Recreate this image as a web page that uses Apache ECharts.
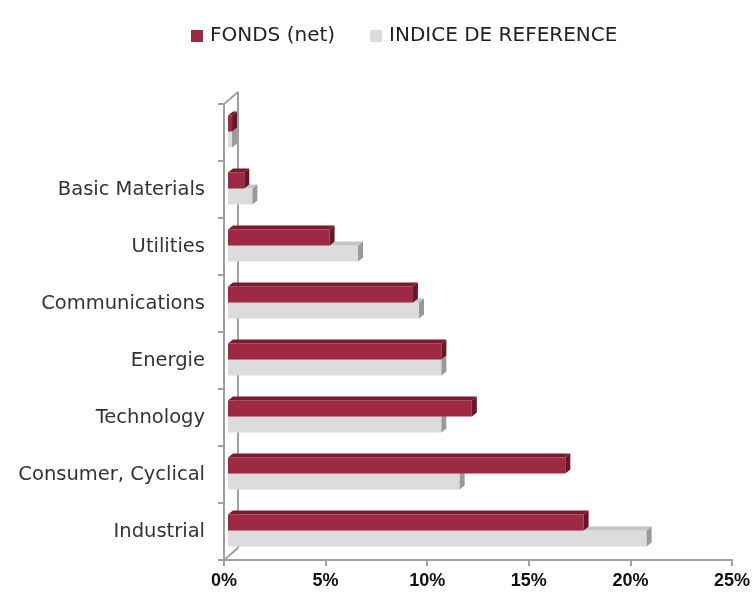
<!DOCTYPE html>
<html>
<head>
<meta charset="utf-8">
<script src="https://cdn.jsdelivr.net/npm/echarts@6/dist/echarts.min.js"></script>
<style>
  html, body { margin: 0; padding: 0; background: #fff; }
  #chart { width: 754px; height: 594px; }
</style>
</head>
<body>
<div id="chart"></div>
<script>
// categories from bottom to top
var categories = ["Industrial", "Consumer, Cyclical", "Technology", "Energie", "Communications", "Utilities", "Basic Materials", ""];
var fonds = [17.5, 16.6, 12.0, 10.5, 9.1, 5.0, 0.8, 0.2];
var indice = [20.6, 11.4, 10.5, 10.5, 9.4, 6.4, 1.2, 0.2];
var xTicks = [0, 5, 10, 15, 20, 25];

var GRID_LEFT = 224, GRID_TOP = 104, GRID_BOTTOM = 34, GRID_RIGHT = 22;
var WALL_DX = 14, WALL_DY = 12; // depth of the 3d wall
var BAR_DX = 4, BAR_DY = 1;     // bars sit half way in the depth
var BAR_H = 16, D = 5;          // bar height, bar depth

function makeRender(side, front, top, right) {
	return function (params, api) {
		var cat = api.value(1);
		var val = api.value(0);
		var p0 = api.coord([0, cat]);
		var p1 = api.coord([val, cat]);
		var x0 = p0[0] + BAR_DX;
		var x1 = p1[0] + BAR_DX;
		var yTop = side === 0 ? p0[1] - BAR_DY - BAR_H : p0[1] - BAR_DY;
		var yBot = yTop + BAR_H;
		return {
			type: "group",
			children: [
				{ type: "rect", shape: { x: x0, y: yTop, width: x1 - x0, height: BAR_H }, style: { fill: front } },
				{ type: "polygon", shape: { points: [[x0, yTop], [x0 + D, yTop - D + 1], [x1 + D, yTop - D + 1], [x1, yTop]] }, style: { fill: top } },
				{ type: "polygon", shape: { points: [[x1, yTop], [x1 + D, yTop - D + 1], [x1 + D, yBot - D + 1], [x1, yBot]] }, style: { fill: right } }
			]
		};
	};
}

var chart = echarts.init(document.getElementById("chart"));
var plotBottom = 594 - GRID_BOTTOM;
var wallStyle = { stroke: "#a0a0a0", lineWidth: 2 };

chart.setOption({
	animation: false,
	legend: {
		top: 21,
		left: 186,
		icon: "rect",
		itemWidth: 12,
		itemHeight: 12,
		itemGap: 35,
		textStyle: { fontFamily: "DejaVu Sans", fontSize: 20, color: "#222", padding: [0, 0, 0, 2] },
		data: ["FONDS (net)", "INDICE DE REFERENCE"]
	},
	grid: {
		left: GRID_LEFT,
		top: GRID_TOP,
		right: GRID_RIGHT,
		bottom: GRID_BOTTOM,
		containLabel: false
	},
	graphic: [
		{ type: "line", z: 0, shape: { x1: GRID_LEFT, y1: GRID_TOP, x2: GRID_LEFT + WALL_DX, y2: GRID_TOP - WALL_DY }, style: wallStyle },
		{ type: "line", z: 0, shape: { x1: GRID_LEFT + WALL_DX, y1: GRID_TOP - WALL_DY, x2: GRID_LEFT + WALL_DX, y2: plotBottom - WALL_DY }, style: wallStyle },
		{ type: "line", z: 0, shape: { x1: GRID_LEFT, y1: plotBottom, x2: GRID_LEFT + WALL_DX, y2: plotBottom - WALL_DY }, style: wallStyle }
	],
	xAxis: {
		type: "value",
		min: xTicks[0],
		max: xTicks[xTicks.length - 1],
		interval: 5,
		splitLine: { show: false },
		axisLine: { show: true, lineStyle: { color: "#a0a0a0", width: 2 } },
		axisTick: { show: true, length: 6, lineStyle: { color: "#a0a0a0", width: 2 } },
		axisLabel: {
			formatter: "{value}%",
			fontFamily: "Liberation Sans",
			fontWeight: "bold",
			fontSize: 18,
			color: "#111",
			margin: 12
		}
	},
	yAxis: {
		type: "category",
		data: categories,
		axisLine: { show: true, lineStyle: { color: "#a0a0a0", width: 2 } },
		axisTick: { show: true, length: 6, lineStyle: { color: "#a0a0a0", width: 2 } },
		axisLabel: { fontFamily: "DejaVu Sans", fontSize: 19.5, color: "#333", margin: 19, padding: [8, 0, 0, 0] }
	},
	series: [
		{
			name: "FONDS (net)",
			type: "custom",
			z: 4,
			itemStyle: { color: "#9e2943" },
			encode: { x: 0, y: 1 },
			renderItem: makeRender(0, "#9e2943", "#7b1a2f", "#6a1526"),
			data: fonds.map(function (v, i) { return [v, i]; })
		},
		{
			name: "INDICE DE REFERENCE",
			type: "custom",
			z: 3,
			itemStyle: { color: "#dcdcde" },
			encode: { x: 0, y: 1 },
			renderItem: makeRender(1, "#dcdcde", "#c4c4c6", "#9a9a9a"),
			data: indice.map(function (v, i) { return [v, i]; })
		}
	]
});
</script>
</body>
</html>
